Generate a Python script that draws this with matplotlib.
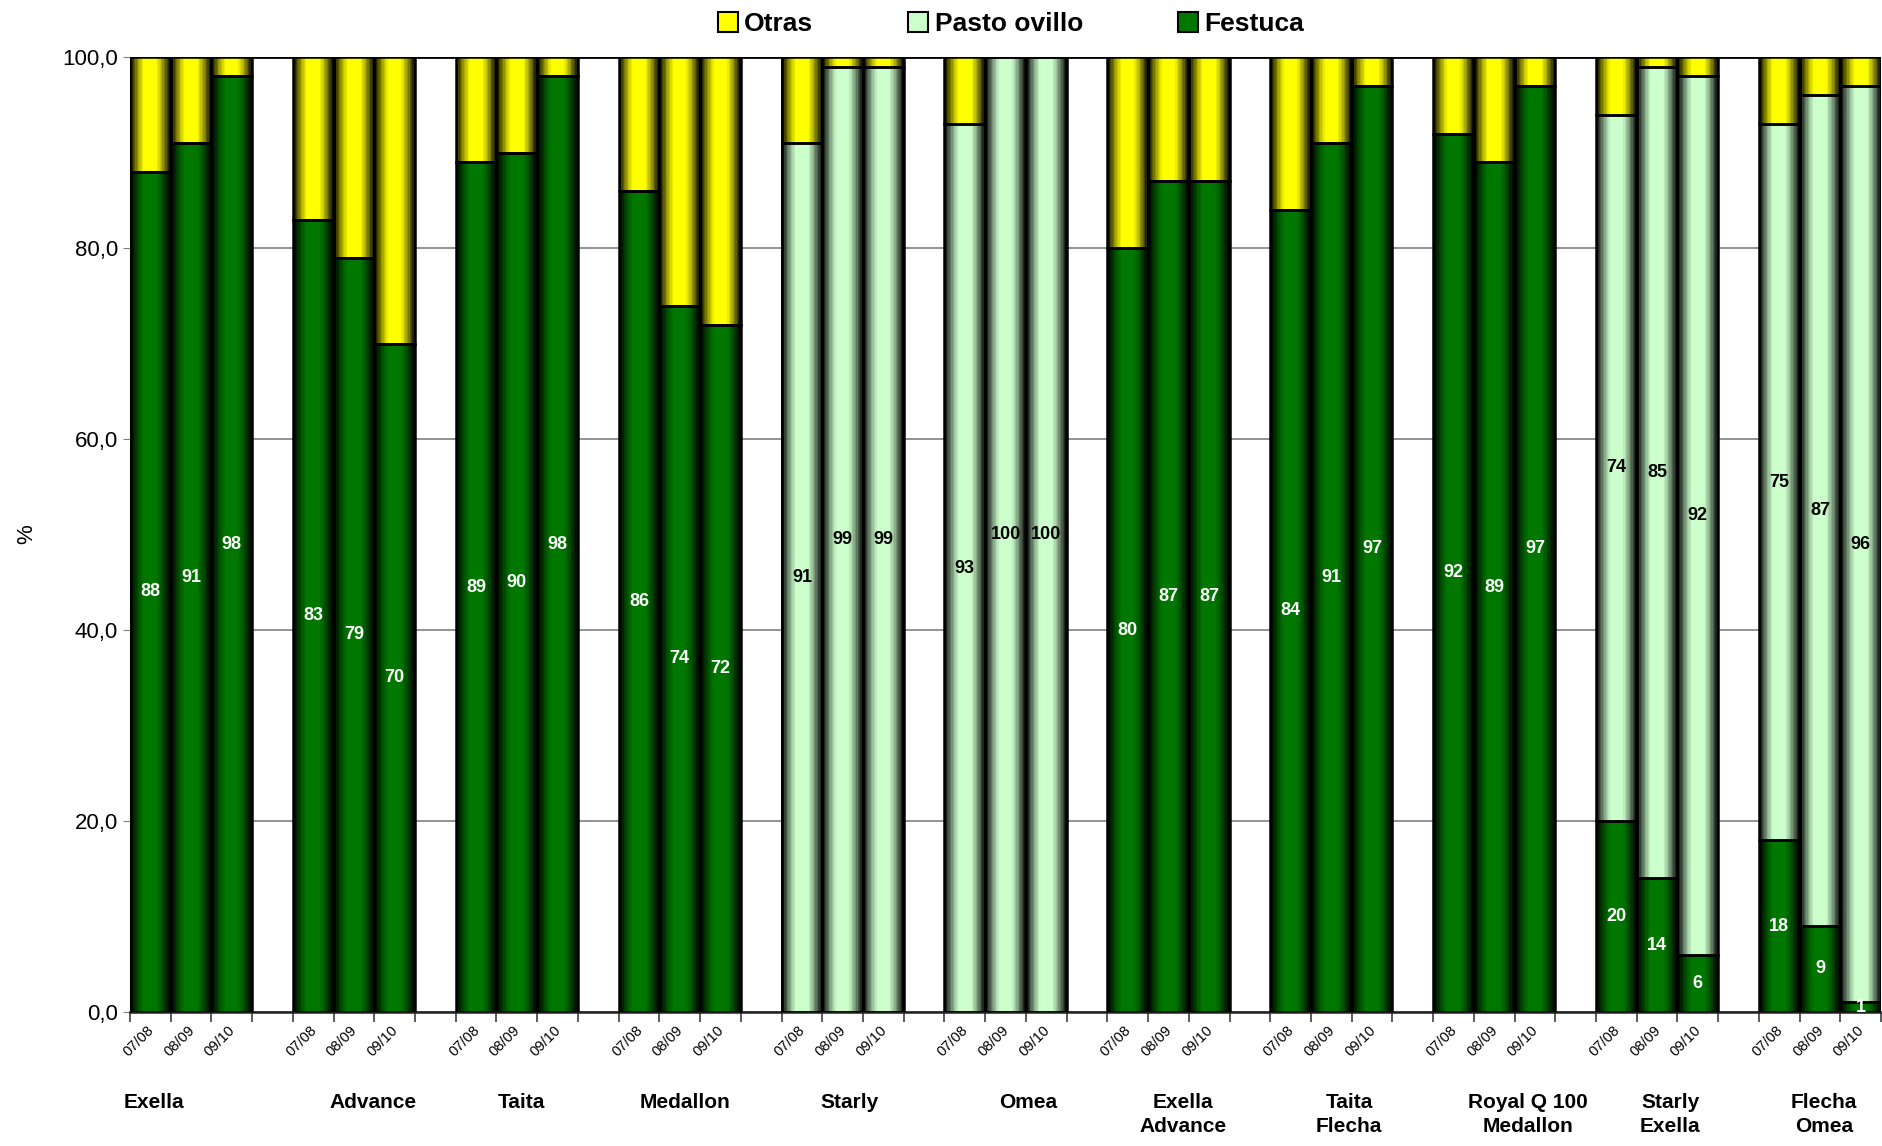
"""
Composicion botanica (%) por cultivar y temporada, barras apiladas.
"""
import numpy as np
import matplotlib.pyplot as plt
from matplotlib.patches import Patch
from matplotlib.ticker import FuncFormatter

plt.rcParams['font.family'] = ['Liberation Sans Narrow', 'Liberation Sans', 'DejaVu Sans']

groups = ["Exella", "Advance", "Taita", "Medallon", "Starly", "Omea",
          "Exella\nAdvance", "Taita\nFlecha", "Royal Q 100\nMedallon",
          "Starly\nExella", "Flecha\nOmea"]
seasons = ["07/08", "08/09", "09/10"]

festuca = [88, 91, 98, 83, 79, 70, 89, 90, 98, 86, 74, 72,
           0, 0, 0, 0, 0, 0, 80, 87, 87, 84, 91, 97,
           92, 89, 97, 20, 14, 6, 18, 9, 1]
pasto_ovillo = [0, 0, 0, 0, 0, 0, 0, 0, 0, 0, 0, 0,
                91, 99, 99, 93, 100, 100, 0, 0, 0, 0, 0, 0,
                0, 0, 0, 74, 85, 92, 75, 87, 96]
otras = [100 - f - p for f, p in zip(festuca, pasto_ovillo)]

# label offset from group centre, in bar slots (labels were placed by hand)
label_shift = [-0.9, 0.47, 0.12, 0.12, 0.18, 0.56, 0.35, 0.44, 0.83, 0.32, 0.09]

c_festuca = (0.0, 0.47, 0.0)
c_pasto = (0.80, 1.0, 0.80)
c_otras = (1.0, 1.0, 0.0)

festuca = np.array(festuca)
pasto_ovillo = np.array(pasto_ovillo)
otras = np.array(otras)

# 3 bars per group plus one empty slot between groups
x = np.array([4 * g + s for g in range(len(groups)) for s in range(3)])

fig = plt.figure(figsize=(18.83, 11.46), dpi=100)
ax = fig.add_axes([0.069, 0.117, 0.930, 0.833])

# cylinder-like shading across each bar, drawn as thin vertical strips
n_strips = 30
t = (np.arange(n_strips) + 0.5) / n_strips
profile = np.clip(1.12 * np.sin(np.pi * t) ** 1.1, 0.04, 1.0)


def shaded_bars(bottom, height, color):
    w = 1.0 / n_strips
    for k in range(n_strips):
        shade = tuple(np.array(color) * profile[k])
        ax.bar(x - 0.5 + t[k], height, width=w * 1.05, bottom=bottom,
               color=shade, linewidth=0, zorder=3)
    ax.bar(x, height, width=1.0, bottom=bottom, facecolor='none',
           edgecolor='black', linewidth=1.8, zorder=4)


shaded_bars(np.zeros_like(festuca), festuca, c_festuca)
shaded_bars(festuca, pasto_ovillo, c_pasto)
shaded_bars(festuca + pasto_ovillo, otras, c_otras)

# data labels
for xi, f, p in zip(x, festuca, pasto_ovillo):
    if f > 0:
        ax.text(xi, f / 2, str(f), ha='center', va='center', color='white',
                fontsize=13, fontweight='bold', zorder=6)
    if p > 0:
        ax.text(xi, f + p / 2, str(p), ha='center', va='center', color='black',
                fontsize=13, fontweight='bold', zorder=6)

ax.set_xlim(-0.5, 4 * len(groups) - 1.5)
ax.set_ylim(0, 100)

# gridlines
ax.set_yticks(np.arange(0, 101, 20))
ax.yaxis.grid(True, color='#808080', linewidth=1.2, zorder=0)
ax.set_axisbelow(True)
ax.axhline(100, color='black', linewidth=2, zorder=2)
ax.yaxis.set_major_formatter(FuncFormatter(lambda v, _: f"{v:.1f}".replace('.', ',')))
for lab in ax.get_yticklabels():
    lab.set_family(['Liberation Sans', 'DejaVu Sans'])
ax.tick_params(axis='y', labelsize=16, length=5, color='#808080')

# category ticks at slot boundaries, season labels under each bar
ax.set_xticks(np.arange(-0.5, 4 * len(groups) - 1, 1.0))
ax.set_xticklabels([])
ax.tick_params(axis='x', length=7, width=1.2, color='#404040')
for xi, lab in zip(x, seasons * len(groups)):
    ax.text(xi + 0.15, -1.2, lab, rotation=45, ha='right', va='top',
            fontsize=10.5, transform=ax.transData)

for g, (name, sh) in enumerate(zip(groups, label_shift)):
    ax.text(4 * g + 1 + sh, -0.085, name, ha='center', va='top',
            fontsize=15, fontweight='bold', linespacing=1.3,
            transform=ax.get_xaxis_transform())

for side in ['top', 'right']:
    ax.spines[side].set_visible(False)
ax.spines['left'].set_color('#808080')
ax.spines['bottom'].set_color('#202020')
ax.spines['bottom'].set_linewidth(1.8)

ax.set_ylabel('%', fontsize=16, family=['Liberation Sans', 'DejaVu Sans'], labelpad=18)

handles = [Patch(facecolor=c_otras, edgecolor='black', linewidth=1.5, label='Otras'),
           Patch(facecolor=c_pasto, edgecolor='black', linewidth=1.5, label='Pasto ovillo'),
           Patch(facecolor=c_festuca, edgecolor='black', linewidth=1.5, label='Festuca')]
fig.legend(handles=handles, loc='center', bbox_to_anchor=(0.537, 0.979), ncol=3,
           frameon=False, prop={'size': 19, 'weight': 'bold'},
           handlelength=0.75, handleheight=0.75, handletextpad=0.25,
           columnspacing=3.6)

fig.savefig('out.png', dpi=100)
